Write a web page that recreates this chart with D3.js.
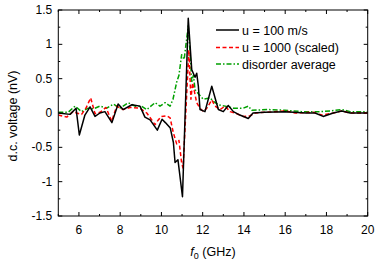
<!DOCTYPE html>
<html><head><meta charset="utf-8">
<script src="https://cdn.jsdelivr.net/npm/d3@7"></script>
<style>body{margin:0;background:#fff}svg{display:block}text{font-family:"Liberation Sans",Arial,sans-serif}</style>
</head><body><svg id="c" width="382" height="267"></svg>
<script>
const seriesNames = ["u = 100 m/s", "u = 1000 (scaled)", "disorder average"];
const blackF = [5.0,5.57,5.86,6.02,6.29,6.54,6.78,7.02,7.26,7.6,7.9,8.14,8.57,8.96,9.2,9.45,9.8,10.03,10.19,10.43,10.58,10.66,10.8,11.02,11.3,11.47,11.63,11.71,11.79,11.87,12.11,12.44,12.76,13.0,13.24,13.49,13.8,14.21,14.44,15.0,16.0,17.0,17.45,17.84,18.33,18.74,19.15,20.0];
const blackV = [0.0,-0.02,0.07,-0.32,-0.03,0.09,-0.05,0.0,0.02,-0.14,0.13,0.05,0.12,0.10,-0.06,-0.10,-0.25,-0.09,-0.14,-0.22,-0.43,-0.72,-0.68,-1.22,1.38,0.63,0.52,0.58,0.39,0.05,0.02,0.39,0.05,0.02,0.11,0.02,-0.03,-0.08,0.0,0.01,0.02,0.0,0.0,-0.05,0.0,0.03,0.0,0.0];
const redF = [5.0,5.41,5.71,5.89,6.13,6.34,6.57,6.78,7.02,7.31,7.59,7.83,8.14,8.48,8.96,9.29,9.53,9.69,9.85,10.01,10.26,10.42,10.58,10.74,10.85,10.98,11.05,11.33,11.43,11.51,11.58,11.71,11.87,12.03,12.2,12.44,12.6,12.84,13.08,13.33,13.57,13.97,14.3,14.54,15.02,16.0,16.48,17.36,17.78,18.33,18.74,19.15,20.0];
const redV = [-0.03,-0.06,0.02,0.0,-0.02,0.07,0.22,-0.01,0.01,0.08,-0.12,0.1,0.05,0.08,0.07,0.0,-0.1,-0.17,-0.1,-0.05,-0.04,-0.07,-0.29,-0.45,-0.4,-0.73,-0.8,0.92,0.2,0.44,0.34,0.15,0.07,0.02,0.07,0.19,0.1,0.05,0.1,0.02,0.0,-0.05,-0.04,0.0,0.01,0.03,0.0,0.01,-0.03,0.0,0.03,0.0,0.0];
const greenF = [5.0,5.48,5.81,6.13,6.45,6.7,7.02,7.35,7.67,7.99,8.39,8.72,9.04,9.29,9.69,9.93,10.18,10.42,10.56,10.74,10.85,10.98,11.1,11.3,11.38,11.47,11.55,11.63,11.79,12.03,12.36,12.52,12.76,13.09,13.49,13.81,13.97,14.21,14.38,15.18,15.99,16.8,17.7,18.2,18.74,19.15,20.0];
const greenV = [0.01,0.01,0.1,0.02,0.07,0.06,0.1,0.07,0.13,0.07,0.15,0.1,0.1,0.05,0.15,0.1,0.15,0.1,0.2,0.45,0.55,0.85,0.78,1.27,0.92,0.44,0.55,0.34,0.28,0.2,0.22,0.17,0.12,0.1,0.07,0.07,0.07,0.1,0.04,0.05,0.04,0.02,0.02,0.03,0.05,0.02,0.02];
const xTicks = [6,8,10,12,14,16,18,20];
const yTicks = [-1.5,-1,-0.5,0,0.5,1,1.5];

const svg = d3.select("#c");
const L=58.3, R=367.7, T=10, B=216;
const x = d3.scaleLinear().domain([5,20]).range([L,R]);
const y = d3.scaleLinear().domain([-1.5,1.5]).range([B,T]);

// ticks
const g = svg.append("g").attr("stroke","#000").attr("stroke-width",1);
const xMinor = d3.range(5,20.01,1);
const yMinor = d3.range(-1.5,1.51,0.25);
xMinor.forEach(v=>{
  const len = (Math.round(v)%2===0)?4:2;
  g.append("line").attr("x1",x(v)).attr("x2",x(v)).attr("y1",B).attr("y2",B-len);
  g.append("line").attr("x1",x(v)).attr("x2",x(v)).attr("y1",T).attr("y2",T+len);
});
yMinor.forEach(v=>{
  const len = (Math.abs(Math.round(v*2)-v*2)<1e-6)?4:2;
  g.append("line").attr("y1",y(v)).attr("y2",y(v)).attr("x1",L).attr("x2",L+len);
  g.append("line").attr("y1",y(v)).attr("y2",y(v)).attr("x1",R).attr("x2",R-len);
});

// curves
svg.append("clipPath").attr("id","cp").append("rect").attr("x",L).attr("y",T).attr("width",R-L).attr("height",B-T);
const line = d3.line().x(d=>x(d[0])).y(d=>y(d[1]));
const curves = [
  {f:greenF,v:greenV,color:"#00a000",dash:"5,2,1.5,2"},
  {f:redF,v:redV,color:"#ff0000",dash:"4,2.5"},
  {f:blackF,v:blackV,color:"#000000",dash:null}
];
curves.forEach(c=>{
  const p = svg.append("path").datum(c.f.map((f,i)=>[f,c.v[i]]))
    .attr("d",line).attr("fill","none").attr("stroke",c.color).attr("stroke-width",1.5)
    .attr("stroke-linejoin","round").attr("clip-path","url(#cp)");
  if(c.dash) p.attr("stroke-dasharray",c.dash);
});

// frame
svg.append("rect").attr("x",L).attr("y",T).attr("width",R-L).attr("height",B-T)
  .attr("fill","none").attr("stroke","#000").attr("stroke-width",1);

// tick labels
xTicks.forEach(v=>{
  svg.append("text").attr("x",x(v)).attr("y",B+18).attr("text-anchor","middle")
    .attr("font-size",12).text(v);
});
yTicks.forEach(v=>{
  svg.append("text").attr("x",L-6).attr("y",y(v)+4).attr("text-anchor","end")
    .attr("font-size",12).text(String(v));
});

// axis labels
const xl = svg.append("text").attr("x",(L+R)/2).attr("y",256).attr("text-anchor","middle").attr("font-size",12.5);
xl.append("tspan").attr("font-style","italic").text("f");
xl.append("tspan").attr("font-size",9).attr("dy",3).text("0");
xl.append("tspan").attr("dy",-3).text(" (GHz)");
svg.append("text").attr("transform",`translate(17,116) rotate(-90)`).attr("text-anchor","middle")
  .attr("font-size",12.5).text("d.c. voltage (nV)");

// legend
const legY = [30,47.5,64];
const legStyles = [{c:"#000",d:null},{c:"#ff0000",d:"4,2.5"},{c:"#00a000",d:"5,2,1.5,2"}];
seriesNames.forEach((n,i)=>{
  const l = svg.append("line").attr("x1",216).attr("x2",239).attr("y1",legY[i]).attr("y2",legY[i])
    .attr("stroke",legStyles[i].c).attr("stroke-width",1.5);
  if(legStyles[i].d) l.attr("stroke-dasharray",legStyles[i].d);
  svg.append("text").attr("x",242).attr("y",legY[i]+4.5).attr("font-size",12.5).text(n);
});
</script></body></html>
